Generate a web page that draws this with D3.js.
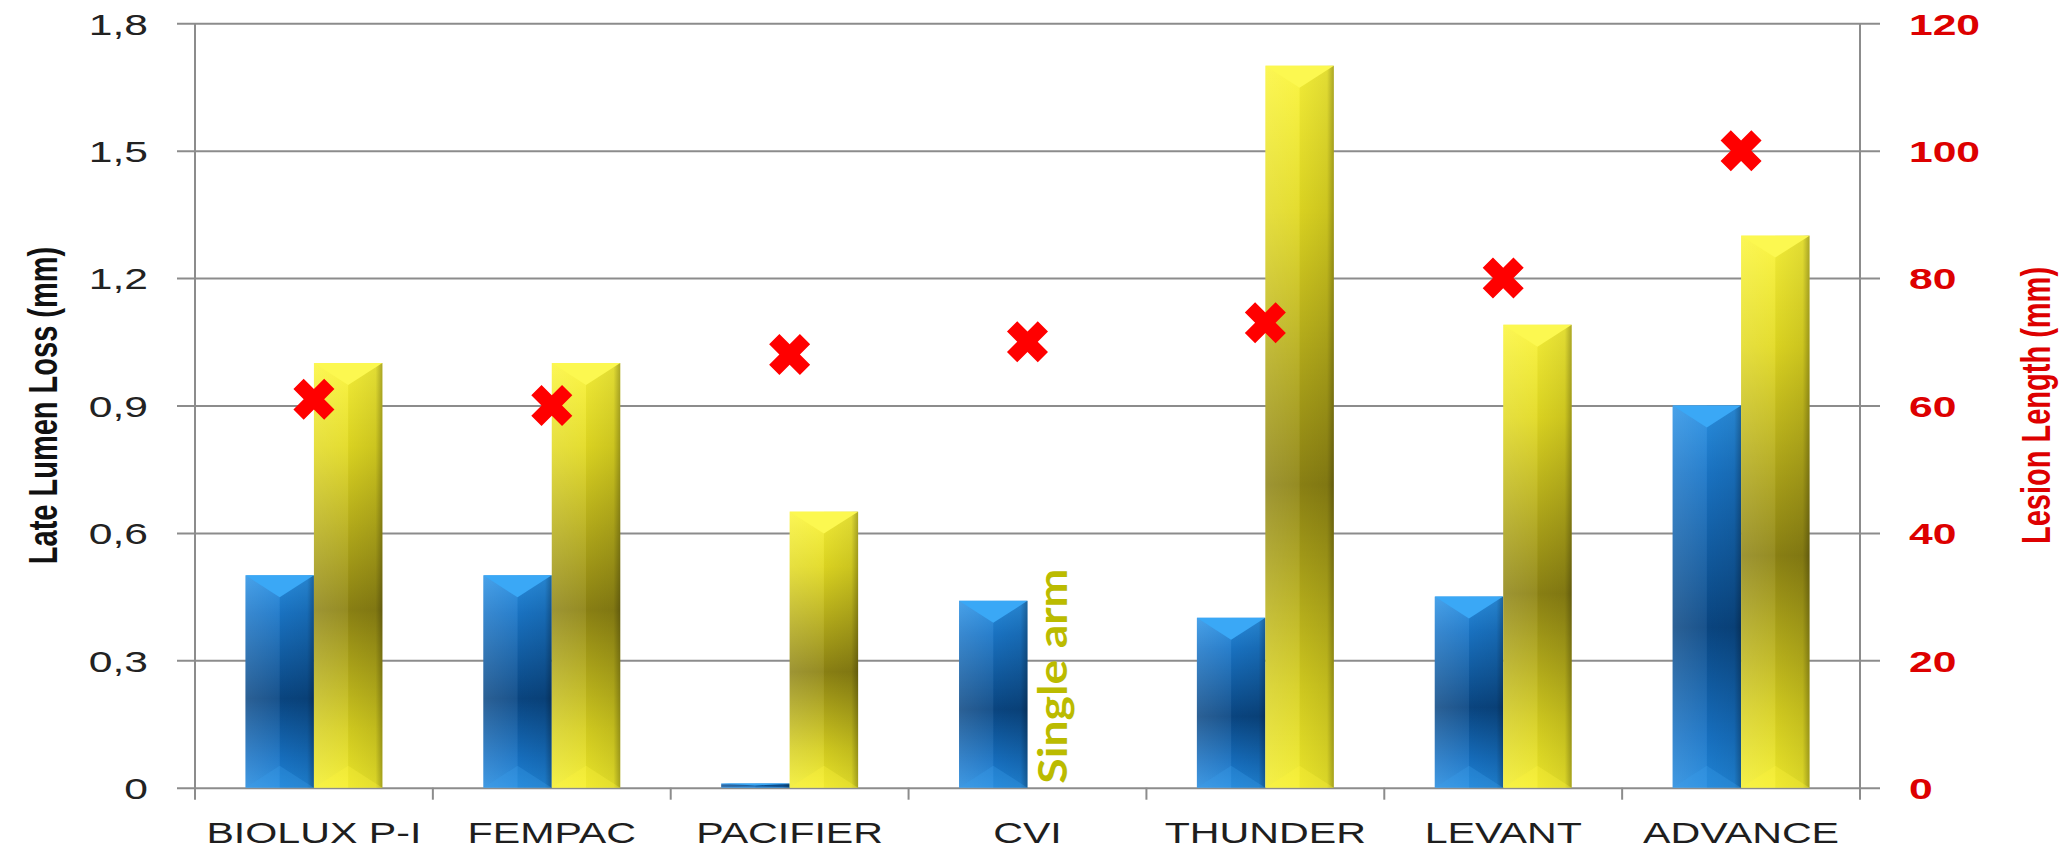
<!DOCTYPE html>
<html>
<head>
<meta charset="utf-8">
<script src="https://cdn.jsdelivr.net/npm/d3@7"></script>
<style>
  html, body { margin: 0; padding: 0; background: #fff; overflow: hidden; }
  text { font-family: "Liberation Sans", Arial, sans-serif; }
</style>
</head>
<body>
<svg id="chart" width="2065" height="850"></svg>
<script>
// Trials on the x axis
const categories = ["BIOLUX P-I", "FEMPAC", "PACIFIER", "CVI", "THUNDER", "LEVANT", "ADVANCE"];
// Late lumen loss (mm), left axis
const lllTreatment = [0.50, 0.50, 0.01, 0.44, 0.40, 0.45, 0.90];
const lllControl   = [1.00, 1.00, 0.65, null, 1.70, 1.09, 1.30];
// Lesion length (mm), right axis
const lesionLength = [61, 60, 68, 70, 73, 80, 100];

const leftTicks = [0, 0.3, 0.6, 0.9, 1.2, 1.5, 1.8];
const leftTickLabels = ["0", "0,3", "0,6", "0,9", "1,2", "1,5", "1,8"];
const rightTicks = [0, 20, 40, 60, 80, 100, 120];
const rightTickLabels = ["0", "20", "40", "60", "80", "100", "120"];

const leftTitle = "Late Lumen Loss (mm)";
const rightTitle = "Lesion Length (mm)";
const singleArmNote = "Single arm";

// ---- layout ----
const W = 2065, H = 850;
const plot = { left: 195, right: 1860, top: 23.3, bottom: 787.7 };
const stretch = 1.42;           // wide lettering
const gridColor = "#8c8c8c";

const svg = d3.select("#chart");

const x0 = d3.scaleBand().domain(categories).range([plot.left, plot.right]);
const x1 = d3.scaleBand().domain(["treatment", "control"])
  .range([0, x0.bandwidth()]).paddingInner(0).paddingOuter(0.737);
const yL = d3.scaleLinear().domain([0, 1.8]).range([plot.bottom, plot.top]);
const yR = d3.scaleLinear().domain([0, 120]).range([plot.bottom, plot.top]);

// ---- gradients ----
const defs = svg.append("defs");
const palettes = {
  blue: {
    v: [[0, "#2b93e6"], [0.18, "#1a76c8"], [0.58, "#0a4784"], [0.86, "#1772c4"], [1, "#2189de"]],
    top: "#3aa8f6", bottom: "#3b9fea"
  },
  yellow: {
    v: [[0, "#fbf53a"], [0.2, "#e2da22"], [0.58, "#8e8414"], [0.86, "#d6cf20"], [1, "#f3ee2c"]],
    top: "#fcf850", bottom: "#fff640"
  }
};
Object.entries(palettes).forEach(([id, p]) => {
  const g = defs.append("linearGradient").attr("id", id + "V")
    .attr("x1", 0).attr("y1", 0).attr("x2", 0).attr("y2", 1);
  p.v.forEach(([o, c]) => g.append("stop").attr("offset", o).attr("stop-color", c));
});
const lh = defs.append("linearGradient").attr("id", "leftHalf").attr("x1", 0).attr("x2", 1).attr("y1", 0).attr("y2", 0);
lh.append("stop").attr("offset", 0).attr("stop-color", "#fff").attr("stop-opacity", 0.14);
lh.append("stop").attr("offset", 1).attr("stop-color", "#fff").attr("stop-opacity", 0.06);
const rh = defs.append("linearGradient").attr("id", "rightHalf").attr("x1", 0).attr("x2", 1).attr("y1", 0).attr("y2", 0);
rh.append("stop").attr("offset", 0).attr("stop-color", "#000").attr("stop-opacity", 0.04);
rh.append("stop").attr("offset", 0.8).attr("stop-color", "#000").attr("stop-opacity", 0.10);
rh.append("stop").attr("offset", 1).attr("stop-color", "#000").attr("stop-opacity", 0.32);

// ---- gridlines + left tick labels ----
const leftAxis = d3.axisLeft(yL)
  .tickValues(leftTicks)
  .tickFormat((d, i) => leftTickLabels[i])
  .tickSize(-(1880 - 177));
const gL = svg.append("g").attr("transform", `translate(177,0)`).call(leftAxis);
gL.select(".domain").remove();
gL.selectAll(".tick line").attr("stroke", gridColor).attr("stroke-width", 2);
gL.selectAll(".tick text")
  .attr("x", 0).attr("dy", "0.36em")
  .attr("transform", `translate(-29,0) scale(${stretch},1)`)
  .attr("text-anchor", "end")
  .attr("fill", "#222")
  .style("font-size", "30px");

// ---- right tick labels ----
const rightAxis = d3.axisRight(yR)
  .tickValues(rightTicks)
  .tickFormat((d, i) => rightTickLabels[i])
  .tickSize(0);
const gR = svg.append("g").attr("transform", `translate(${plot.right},0)`).call(rightAxis);
gR.select(".domain").remove();
gR.selectAll(".tick text")
  .attr("x", 0).attr("dy", "0.36em")
  .attr("transform", `translate(49,0) scale(${stretch},1)`)
  .attr("text-anchor", "start")
  .attr("fill", "#dd0000")
  .style("font-size", "30px")
  .style("font-weight", "bold");

// ---- axis lines ----
svg.append("line").attr("x1", plot.left).attr("x2", plot.left)
  .attr("y1", plot.top).attr("y2", plot.bottom + 12)
  .attr("stroke", gridColor).attr("stroke-width", 2);
svg.append("line").attr("x1", plot.right).attr("x2", plot.right)
  .attr("y1", plot.top).attr("y2", plot.bottom + 12)
  .attr("stroke", gridColor).attr("stroke-width", 2);
// category separators on the baseline
svg.append("g").selectAll("line")
  .data(categories.slice(1))
  .join("line")
  .attr("x1", d => x0(d)).attr("x2", d => x0(d))
  .attr("y1", plot.bottom).attr("y2", plot.bottom + 12)
  .attr("stroke", gridColor).attr("stroke-width", 2);

// ---- category labels ----
const bottomAxis = d3.axisBottom(x0).tickSize(0);
const gB = svg.append("g").attr("transform", `translate(0,${plot.bottom})`).call(bottomAxis);
gB.select(".domain").remove();
gB.selectAll(".tick text")
  .attr("y", 0).attr("dy", 0)
  .attr("transform", `translate(0,55) scale(${stretch},1)`)
  .attr("text-anchor", "middle")
  .attr("fill", "#1e1e1e")
  .style("font-size", "29px");

// ---- bars ----
function drawBar(g, x, w, yTop, yBot, id) {
  const h = yBot - yTop;
  if (!(h > 0)) return;
  const p = palettes[id];
  const d = Math.min(w * 0.32, h / 2);
  const xc = x + w / 2;
  g.append("rect").attr("x", x).attr("y", yTop).attr("width", w).attr("height", h)
    .attr("fill", `url(#${id}V)`);
  g.append("rect").attr("x", x).attr("y", yTop).attr("width", w / 2).attr("height", h)
    .attr("fill", "url(#leftHalf)");
  g.append("rect").attr("x", xc).attr("y", yTop).attr("width", w / 2).attr("height", h)
    .attr("fill", "url(#rightHalf)");
  g.append("path").attr("d", `M${x},${yTop}L${x + w},${yTop}L${xc},${yTop + d}Z`)
    .attr("fill", p.top);
  g.append("path").attr("d", `M${x},${yBot}L${x + w},${yBot}L${xc},${yBot - d}Z`)
    .attr("fill", p.bottom).attr("opacity", 0.3);
}

const bars = svg.append("g");
categories.forEach((c, i) => {
  const g = bars.append("g");
  if (lllTreatment[i] != null)
    drawBar(g, x0(c) + x1("treatment"), x1.bandwidth(), yL(lllTreatment[i]), yL(0), "blue");
  if (lllControl[i] != null)
    drawBar(g, x0(c) + x1("control"), x1.bandwidth(), yL(lllControl[i]), yL(0), "yellow");
});

// ---- "Single arm" note beside the CVI bar ----
const cvi = "CVI";
const noteX = x0(cvi) + x0.bandwidth() / 2 + 39;
const noteY = yL(0) - 4;
svg.append("text")
  .attr("transform", `translate(${noteX},${noteY}) rotate(-90) scale(1.16,1)`)
  .attr("text-anchor", "start")
  .attr("fill", "#bbbb00")
  .style("font-family", "Lato, 'Open Sans', sans-serif")
  .style("font-weight", 700)
  .style("font-size", "40px")
  .text(singleArmNote);

// ---- lesion length markers ----
const xSym = d3.symbol().type(d3.symbolCross).size(1051);
svg.append("g").selectAll("path")
  .data(lesionLength)
  .join("path")
  .attr("d", xSym)
  .attr("transform", (d, i) => `translate(${x0(categories[i]) + x0.bandwidth() / 2},${yR(d)}) rotate(45)`)
  .attr("fill", "#ff0000");

// ---- axis titles ----
svg.append("text")
  .attr("transform", `translate(42.5,${(plot.top + plot.bottom) / 2}) scale(${stretch},1) rotate(-90)`)
  .attr("text-anchor", "middle")
  .attr("dy", "0.35em")
  .attr("fill", "#111")
  .style("font-size", "29px")
  .style("font-weight", "bold")
  .text(leftTitle);

svg.append("text")
  .attr("transform", `translate(2036,${(plot.top + plot.bottom) / 2}) scale(${stretch},1) rotate(-90)`)
  .attr("text-anchor", "middle")
  .attr("dy", "0.35em")
  .attr("fill", "#dd0000")
  .style("font-size", "29px")
  .style("font-weight", "bold")
  .text(rightTitle);
</script>
</body>
</html>
